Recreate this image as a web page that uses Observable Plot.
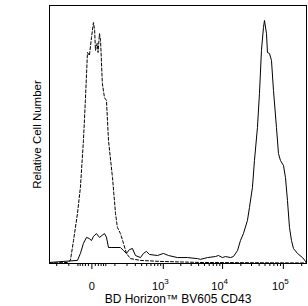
<!DOCTYPE html>
<html>
<head>
<meta charset="utf-8">
<script src="https://cdn.jsdelivr.net/npm/d3@7"></script>
<script src="https://cdn.jsdelivr.net/npm/@observablehq/plot@0.6"></script>
<style>
  html, body { margin: 0; padding: 0; background: #fff; }
</style>
</head>
<body>
<div id="chart"></div>
<script>
// Isotype control (dashed)
const controlX = [-285, -109, -90, -72, -52, -39, -27, -20, -13, -7, -1, 4.5, 8, 10.5, 16, 19, 24, 28, 35, 44, 53, 63, 85, 104, 117, 140, 166, 194, 238, 380, 891, 4290, 240000];
const controlY = [0.2, 0.4, 1.2, 8.9, 19.4, 29.5, 47.7, 63.2, 81.8, 80.6, 87.6, 93.4, 90.3, 82.6, 85.3, 81.8, 89.1, 86.4, 69.8, 64.3, 63.2, 47.7, 33.3, 19.4, 14.0, 11.6, 7.8, 3.9, 1.9, 1.2, 0.8, 0.4, 0.2];

// Stained sample (solid)
const stainX = [-285, -52, -39, -27, -16, -7.7, -1, 4.5, 13.7, 24, 34, 44, 53, 63, 77, 140, 166, 194, 226, 262, 302, 380, 434, 495, 563, 787, 1006, 1230, 1757, 2600, 3825, 4290, 5614, 7620, 8545, 9950, 11150, 13480, 15100, 17600, 19710, 22080, 25700, 27730, 31050, 33520, 37530, 40500, 43700, 47150, 48980, 52850, 54830, 59170, 63850, 68840, 77130, 83200, 89750, 100500, 108400, 116900, 126100, 136100, 146700, 170700, 206200, 240000];
const stainY = [0.4, 1.2, 3.9, 7.8, 10.1, 9.7, 8.9, 10.5, 11.6, 10.1, 10.9, 11.6, 10.2, 6.2, 6.2, 6.2, 5.0, 3.9, 5.4, 5.8, 3.1, 2.3, 3.9, 4.7, 3.5, 3.1, 3.9, 3.1, 2.3, 2.3, 1.9, 1.6, 2.3, 2.7, 3.1, 2.3, 2.7, 2.3, 2.7, 5.0, 8.9, 11.6, 16.7, 21.7, 29.5, 39.9, 52.7, 65.9, 82.6, 91.5, 94.2, 89.1, 81.8, 81.4, 78.7, 67.1, 52.7, 42.6, 39.9, 38.0, 33.3, 24.4, 14.0, 8.9, 5.8, 3.9, 2.3, 0.4];

// Axis ticks
const majorTicks = [0, 1000, 10000, 100000];
const majorBase = ["0", "10", "10", "10"];
const majorExp = ["", "3", "4", "5"];
const minorTicks = [-200, -100, -50, -40, -30, -20, -10, 10, 20, 30, 40, 50,
  100, 200, 300, 400, 500, 600, 700, 800, 900,
  2000, 3000, 4000, 5000, 6000, 7000, 8000, 9000,
  20000, 30000, 40000, 50000, 60000, 70000, 80000, 90000, 200000];

const xTitle = "BD Horizon™ BV605 CD43";
const yTitle = "Relative Cell Number";

const control = controlX.map((x, i) => ({x, y: controlY[i]}));
const stain = stainX.map((x, i) => ({x, y: stainY[i]}));
const majors = majorTicks.map((v, i) => ({v, base: majorBase[i], exp: majorExp[i]}));

const chart = Plot.plot({
  width: 308,
  height: 306,
  marginLeft: 49,
  marginRight: 2,
  marginTop: 5,
  marginBottom: 43,
  style: {fontFamily: "Liberation Sans, Arial, sans-serif", background: "#fff", color: "#000"},
  x: {type: "symlog", constant: 72, domain: [-285, 240000]},
  y: {domain: [0, 100], axis: null},
  marks: [
    Plot.frame({stroke: "#000"}),
    Plot.axisX({ticks: minorTicks, tickSize: 3, tickFormat: () => "", label: null, stroke: "#000"}),
    Plot.axisX({ticks: majorTicks, tickSize: 6, tickFormat: () => "", label: null, stroke: "#000"}),
    Plot.line(control, {x: "x", y: "y", stroke: "#000", strokeWidth: 1, strokeDasharray: "3,2"}),
    Plot.line(stain, {x: "x", y: "y", stroke: "#000", strokeWidth: 1}),
    Plot.text(majors.filter(d => d.exp === ""), {x: "v", text: "base", frameAnchor: "bottom", dy: 26, lineAnchor: "bottom", fontSize: 11, fill: "#000"}),
    Plot.text(majors.filter(d => d.exp !== ""), {x: "v", text: "base", frameAnchor: "bottom", dy: 26, dx: 1, lineAnchor: "bottom", textAnchor: "end", fontSize: 11, fill: "#000"}),
    Plot.text(majors.filter(d => d.exp !== ""), {x: "v", text: "exp", frameAnchor: "bottom", dy: 20, dx: 1, lineAnchor: "bottom", textAnchor: "start", fontSize: 8, fill: "#000"}),
    Plot.text([xTitle], {frameAnchor: "bottom", dy: 39, lineAnchor: "bottom", fontSize: 12, fill: "#000"}),
    Plot.text([yTitle], {frameAnchor: "left", dx: -12, rotate: -90, textAnchor: "middle", lineAnchor: "middle", fontSize: 11.5, fill: "#000"})
  ]
});
document.getElementById("chart").appendChild(chart);
</script>
</body>
</html>
